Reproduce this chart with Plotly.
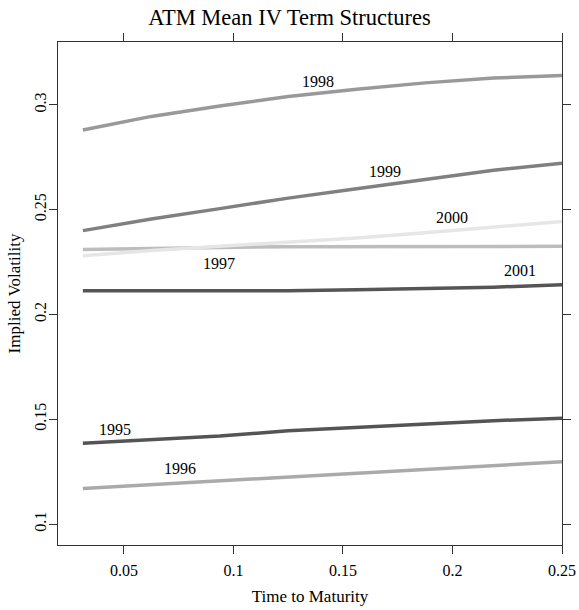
import plotly.graph_objects as go

maturity = [0.03125, 0.0625, 0.09375, 0.125, 0.15625, 0.1875, 0.21875, 0.25]
years = ["1995", "1996", "1997", "1998", "1999", "2000", "2001"]
iv_1995 = [0.1385, 0.1402, 0.1420, 0.1445, 0.1462, 0.1475, 0.1493, 0.1505]
iv_1996 = [0.1170, 0.1188, 0.1205, 0.1222, 0.1240, 0.1258, 0.1277, 0.1297]
iv_1997 = [0.2310, 0.2317, 0.2320, 0.2323, 0.2324, 0.2325, 0.2325, 0.2325]
iv_1998 = [0.2880, 0.2945, 0.2995, 0.3040, 0.3075, 0.3105, 0.3128, 0.3140]
iv_1999 = [0.2400, 0.2455, 0.2505, 0.2555, 0.2600, 0.2645, 0.2688, 0.2722]
iv_2000 = [0.2280, 0.2305, 0.2325, 0.2345, 0.2365, 0.2390, 0.2415, 0.2443]
iv_2001 = [0.2113, 0.2113, 0.2113, 0.2113, 0.2118, 0.2124, 0.2130, 0.2142]
series = [iv_1995, iv_1996, iv_1997, iv_1998, iv_1999, iv_2000, iv_2001]
colors = ["#545454", "#aaaaaa", "#bdbdbd", "#999999", "#808080", "#e6e6e6", "#555555"]
label_x = [0.0459, 0.0756, 0.0934, 0.1386, 0.1692, 0.2000, 0.2308]
label_y = [0.1452, 0.1266, 0.2242, 0.3110, 0.2681, 0.2462, 0.2212]

font = "Liberation Serif"
fig = go.Figure()
for yr, vals, c in zip(years, series, colors):
    fig.add_trace(go.Scatter(x=maturity, y=vals, mode="lines", name=yr,
                             line=dict(color=c, width=3.5), showlegend=False))
for yr, lx, ly in zip(years, label_x, label_y):
    fig.add_annotation(x=lx, y=ly, text=yr, showarrow=False,
                       font=dict(family=font, size=16, color="black"))

axis_common = dict(showgrid=False, zeroline=False, showline=True, linecolor="#333333",
                   linewidth=1.2, mirror="ticks", ticks="outside", ticklen=8,
                   tickcolor="#333333", automargin=False,
                   tickfont=dict(family=font, size=16, color="black"))
fig.update_layout(
    width=579, height=610,
    margin=dict(l=58, r=17, t=42, b=65),
    paper_bgcolor="white", plot_bgcolor="white",
    title=dict(text="ATM Mean IV Term Structures", x=0.5, xanchor="center", y=0.972,
               yanchor="middle", font=dict(family=font, size=22.5, color="black")),
    xaxis=dict(range=[0.0199, 0.25], tickvals=[0.05, 0.1, 0.15, 0.2, 0.25],
               ticktext=["0.05", "0.1", "0.15", "0.2", "0.25"], ticklabelstandoff=3,
               title=dict(text="Time to Maturity", font=dict(family=font, size=17, color="black"), standoff=11),
               **axis_common),
    yaxis=dict(range=[0.090, 0.330], tickvals=[0.1, 0.15, 0.2, 0.25, 0.3],
               ticktext=["0.1", "0.15", "0.2", "0.25", "0.3"], tickangle=-90, ticklabelstandoff=-3,
               title=dict(text="Implied Volatility", font=dict(family=font, size=17, color="black"), standoff=6),
               **axis_common),
)
fig.write_html("out.html")
